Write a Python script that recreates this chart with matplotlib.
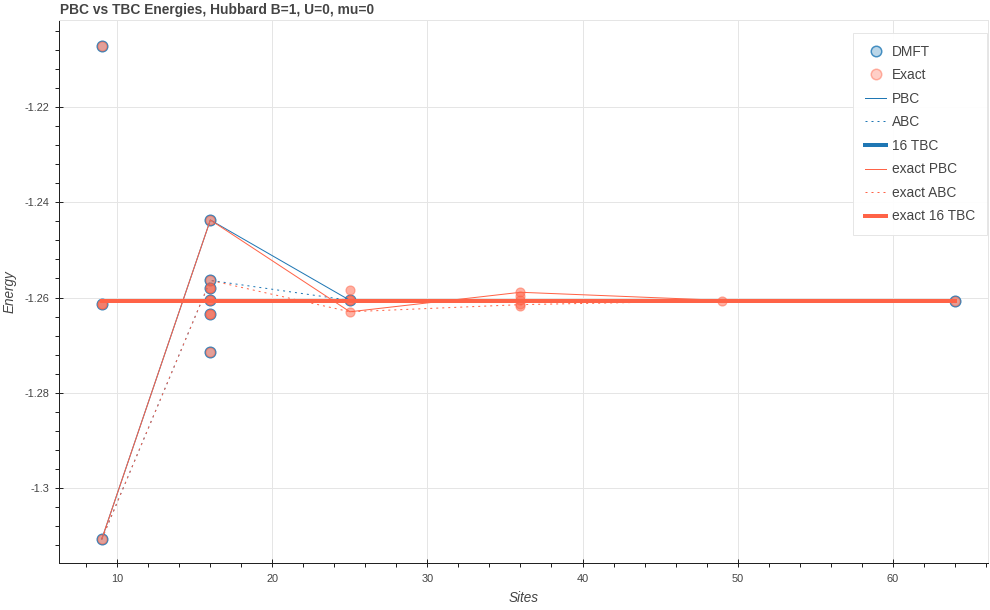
import matplotlib
matplotlib.use("Agg")
import matplotlib.pyplot as plt
from matplotlib.lines import Line2D
from matplotlib.ticker import MultipleLocator, AutoMinorLocator, FuncFormatter

plt.rcParams['font.family'] = ['Liberation Sans', 'DejaVu Sans']

# --- data -------------------------------------------------------------
# every twist energy per lattice size (DMFT and exact diagonalisation)
dmft_sites = [9, 9, 9, 16, 16, 16, 16, 16, 16, 25, 64]
dmft_energy = [-1.2072, -1.2614, -1.3108,
               -1.2437, -1.2564, -1.2579, -1.2606, -1.2635, -1.2715,
               -1.2606, -1.2607]

exact_sites = [9, 9, 9, 9,
               16, 16, 16, 16, 16, 16, 16, 16, 16,
               25, 25, 25, 25,
               36, 36, 36, 36, 36,
               49, 64]
exact_energy = [-1.2072, -1.2614, -1.2614, -1.3108,
                -1.2437, -1.2564, -1.2579, -1.2579, -1.2606, -1.2606,
                -1.2635, -1.2635, -1.2715,
                -1.2584, -1.2606, -1.2606, -1.2630,
                -1.2588, -1.2597, -1.2606, -1.2613, -1.2618,
                -1.2607, -1.2607]

# boundary-condition curves
line_sites = [9, 16, 25, 64]
pbc = [-1.3108, -1.2437, -1.2606, -1.2607]
abc = [-1.3108, -1.2564, -1.2606, -1.2607]
tbc16 = [-1.2607, -1.2607, -1.2607, -1.2607]

exact_line_sites = [9, 16, 25, 36, 49, 64]
exact_pbc = [-1.3108, -1.2437, -1.2630, -1.2589, -1.2606, -1.2607]
exact_abc = [-1.3108, -1.2564, -1.2630, -1.2615, -1.2607, -1.2607]
exact_tbc16 = [-1.2607, -1.2607, -1.2607, -1.2607, -1.2607, -1.2607]

# --- styling ----------------------------------------------------------
BLUE = "#1f77b4"
RED = "tomato"
TXT = "#444444"
GRID = "#e5e5e5"
PX = 72 / 100  # one pixel in points at dpi=100
BLUE_RGB = (0.12, 0.47, 0.71)
RED_RGB = (1.0, 0.39, 0.28)

fig = plt.figure(figsize=(9.9, 6.1), dpi=100)
W, H = 990, 610
left, right, top, bottom = 59, 988, 20, 562.7
ax = fig.add_axes([left / W, (H - bottom) / H, (right - left) / W, (bottom - top) / H])

ms_d = 10.5 * PX
ms_e = 9 * PX
ax.scatter(dmft_sites, dmft_energy, s=ms_d ** 2, facecolor=BLUE_RGB + (0.25,),
           edgecolor=BLUE_RGB + (0.9,), linewidth=1.5 * PX, zorder=3)
ax.scatter(exact_sites, exact_energy, s=ms_e ** 2, facecolor=RED_RGB + (0.5,),
           edgecolor=RED_RGB + (0.5,), linewidth=1.2 * PX, zorder=3)

ax.plot(line_sites, pbc, color=BLUE, lw=1 * PX, zorder=4)
ax.plot(line_sites, abc, color=BLUE, lw=1 * PX, ls=(0, (2, 4)), zorder=4)
ax.plot(line_sites, tbc16, color=BLUE, lw=4 * PX, zorder=4)
ax.plot(exact_line_sites, exact_pbc, color=RED, lw=1 * PX, zorder=4)
ax.plot(exact_line_sites, exact_abc, color=RED, lw=1 * PX, ls=(0, (2, 4)), zorder=4)
ax.plot(exact_line_sites, exact_tbc16, color=RED, lw=4 * PX, zorder=4)

ax.set_xlim(6.24, 66.15)
ax.set_ylim(-1.31577, -1.20164)

ax.xaxis.set_major_locator(MultipleLocator(10))
ax.xaxis.set_minor_locator(AutoMinorLocator(5))
ax.yaxis.set_major_locator(MultipleLocator(0.02))
ax.yaxis.set_minor_locator(AutoMinorLocator(5))
ax.yaxis.set_major_formatter(FuncFormatter(lambda v, p: f"{v:g}"))
ax.xaxis.set_major_formatter(FuncFormatter(lambda v, p: f"{v:g}"))

ax.grid(True, which='major', color=GRID, lw=1 * PX, zorder=0)
ax.set_axisbelow(True)
for side in ("top", "right"):
    ax.spines[side].set_color(GRID)
    ax.spines[side].set_linewidth(1 * PX)
for side in ("left", "bottom"):
    ax.spines[side].set_color("#222222")
    ax.spines[side].set_linewidth(1 * PX)

ax.tick_params(which='major', direction='inout', length=8 * PX, width=1 * PX,
               color="#222222", labelcolor=TXT, labelsize=11 * PX)
ax.tick_params(axis='x', which='major', pad=5)
ax.tick_params(axis='y', which='major', pad=4)
ax.tick_params(which='minor', direction='out', length=4 * PX, width=1 * PX, color="#222222")

ax.set_xlabel("Sites", style='italic', color=TXT, fontsize=13.5 * PX, labelpad=5)
ax.set_ylabel("Energy", style='italic', color=TXT, fontsize=13.5 * PX, labelpad=6)
fig.text(60 / W, 1 - 10 / H, "PBC vs TBC Energies, Hubbard B=1, U=0, mu=0",
         fontsize=13.7 * PX, fontweight='bold', color=TXT, ha='left', va='center')

handles = [
    Line2D([], [], ls='none', marker='o', ms=ms_d, mfc=BLUE_RGB + (0.3,),
           mec=BLUE_RGB + (0.8,), mew=1.5 * PX),
    Line2D([], [], ls='none', marker='o', ms=ms_d, mfc=RED_RGB + (0.3,),
           mec=RED_RGB + (0.45,), mew=1.5 * PX),
    Line2D([], [], color=BLUE, lw=1 * PX),
    Line2D([], [], color=BLUE, lw=1 * PX, ls=(0, (2, 4))),
    Line2D([], [], color=BLUE, lw=4 * PX),
    Line2D([], [], color=RED, lw=1 * PX),
    Line2D([], [], color=RED, lw=1 * PX, ls=(0, (2, 4))),
    Line2D([], [], color=RED, lw=4 * PX),
]
labels = ["DMFT", "Exact", "PBC", "ABC", "16 TBC", "exact PBC", "exact ABC", "exact 16 TBC"]
leg = ax.legend(handles, labels, loc='upper right', bbox_to_anchor=(0.999, 0.976),
                borderaxespad=0, prop={'size': 13.8 * PX}, frameon=True, fancybox=False,
                edgecolor=GRID, framealpha=0.95, handlelength=1.5, handletextpad=0.45,
                labelspacing=0.69, borderpad=0.85, labelcolor=TXT)
leg.get_frame().set_linewidth(1 * PX)
leg.set_zorder(10)

fig.savefig("out.png", dpi=100)
